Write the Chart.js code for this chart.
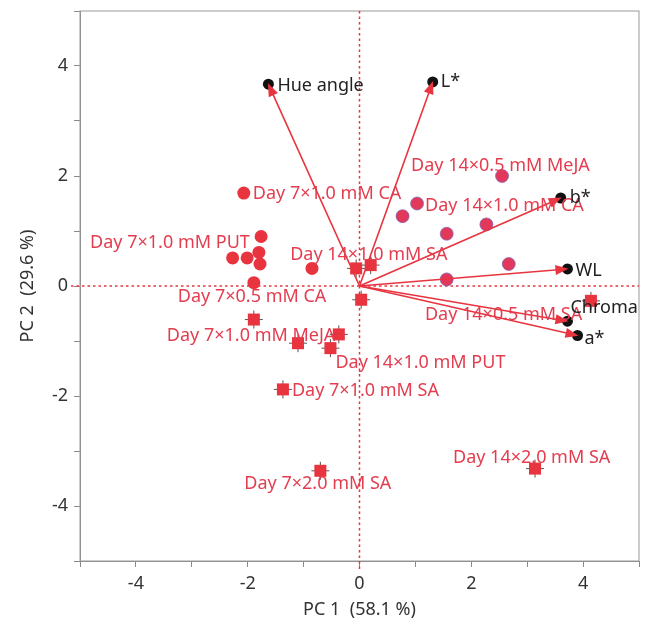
<!DOCTYPE html>
<html>
<head>
<meta charset="utf-8">
<script src="https://cdn.jsdelivr.net/npm/chart.js@4"></script>
<style>
  html, body { margin: 0; padding: 0; background: #fff; }
  #wrap { width: 653px; height: 636px; }
</style>
</head>
<body>
<div id="wrap"><canvas id="pca"></canvas></div>
<script>
// loadings (variables) - arrows from the origin
const loadNames = ["Hue angle", "L*", "b*", "WL", "Chroma", "a*"];
const loadPC1 = [-1.63, 1.31, 3.60, 3.72, 3.72, 3.90];
const loadPC2 = [3.67, 3.71, 1.60, 0.31, -0.64, -0.90];

// scores, round markers (left cluster)
const roundPC1 = [-2.07, -1.76, -2.27, -2.01, -1.80, -1.78, -1.89, -0.85];
const roundPC2 = [1.69, 0.90, 0.51, 0.51, 0.61, 0.40, 0.06, 0.32];
const roundLabels = ["Day 7×1.0 mM CA", "Day 7×1.0 mM PUT", "", "", "", "", "Day 7×0.5 mM CA", ""];

// scores, round markers (right cluster)
const pinkPC1 = [2.55, 1.03, 0.77, 2.27, 1.56, 2.67, 1.56];
const pinkPC2 = [2.00, 1.50, 1.27, 1.12, 0.95, 0.40, 0.12];
const pinkLabels = ["Day 14×0.5 mM MeJA", "Day 14×1.0 mM CA", "", "", "", "", ""];

// scores, square markers
const squarePC1 = [-0.06, 0.20, 0.03, -1.89, -1.10, -0.52, -0.37, -1.37, -0.70, 3.14, 4.14];
const squarePC2 = [0.32, 0.38, -0.25, -0.61, -1.04, -1.13, -0.88, -1.88, -3.36, -3.32, -0.27];
const squareLabels = ["Day 14×1.0 mM SA", "", "", "Day 7×1.0 mM MeJA", "", "Day 14×1.0 mM PUT",
  "", "Day 7×1.0 mM SA", "Day 7×2.0 mM SA", "Day 14×2.0 mM SA", "Day 14×0.5 mM SA"];

// where each text sits relative to its marker (pixels)
const labelPlacement = {
  "Day 7×1.0 mM CA": [9, 1],
  "Day 7×1.0 mM PUT": [-171, 6],
  "Day 7×0.5 mM CA": [-76, 14],
  "Day 14×0.5 mM MeJA": [-91, -10],
  "Day 14×1.0 mM CA": [8, 2],
  "Day 14×1.0 mM SA": [-66, -14],
  "Day 7×1.0 mM MeJA": [-87, 16],
  "Day 14×1.0 mM PUT": [5, 15],
  "Day 7×1.0 mM SA": [9, 1],
  "Day 7×2.0 mM SA": [-76, 13],
  "Day 14×2.0 mM SA": [-82, -11],
  "Day 14×0.5 mM SA": [-166, 14],
  "Hue angle": [9, 2],
  "L*": [8, 0],
  "b*": [9, 0],
  "WL": [8, 2],
  "Chroma": [3, -13],
  "a*": [7, 3]
};

const RED = "#e8343f";
const TEXT_RED = "#e43d4f";
const FONT = "'Noto Sans', sans-serif";

const toPoints = (xs, ys) => xs.map((x, i) => ({ x: x, y: ys[i] }));

const datasets = [
  {
    data: toPoints(squarePC1, squarePC2),
    pointStyle: "cross", pointRadius: 9,
    borderColor: "#555", borderWidth: 1, backgroundColor: "#555",
    order: 6
  },
  {
    data: toPoints(squarePC1, squarePC2),
    labels: squareLabels,
    pointStyle: "rect", pointRadius: 8.5,
    backgroundColor: RED, borderColor: RED, borderWidth: 0,
    order: 5
  },
  {
    data: toPoints(roundPC1, roundPC2),
    labels: roundLabels,
    pointStyle: "circle", pointRadius: 6.5,
    backgroundColor: RED, borderColor: RED, borderWidth: 0,
    order: 4
  },
  {
    data: toPoints(pinkPC1, pinkPC2),
    labels: pinkLabels,
    pointStyle: "circle", pointRadius: 6.5,
    backgroundColor: "#e2395a", borderColor: "rgba(120,100,190,0.7)", borderWidth: 1,
    order: 4
  }
];

// one line per loading, from origin to its tip
loadNames.forEach((name, i) => {
  datasets.push({
    data: [{ x: 0, y: 0 }, { x: loadPC1[i], y: loadPC2[i] }],
    showLine: true, isArrow: true,
    borderColor: RED, borderWidth: 1.6, pointRadius: 0,
    order: 2
  });
});

// black dots at the loading tips
datasets.push({
  data: toPoints(loadPC1, loadPC2),
  labels: loadNames, labelColor: "#222",
  pointStyle: "circle", pointRadius: 5.5,
  backgroundColor: "#111", borderWidth: 0,
  order: 1
});

const zeroLines = {
  id: "zeroLines",
  beforeDatasetsDraw(chart) {
    const { ctx, chartArea: a, scales: { x, y } } = chart;
    const x0 = x.getPixelForValue(0), y0 = y.getPixelForValue(0);
    ctx.save();
    ctx.strokeStyle = "#999";
    ctx.lineWidth = 1;
    ctx.strokeRect(a.left, a.top, a.right - a.left, a.bottom - a.top);
    ctx.strokeStyle = RED;
    ctx.lineWidth = 1.5;
    ctx.setLineDash([2.5, 3]);
    ctx.beginPath();
    ctx.moveTo(x0, a.top); ctx.lineTo(x0, a.bottom + 9);
    ctx.moveTo(a.left - 9, y0); ctx.lineTo(a.right, y0);
    ctx.stroke();
    ctx.restore();
  }
};

const arrowHeads = {
  id: "arrowHeads",
  afterDatasetsDraw(chart) {
    const ctx = chart.ctx;
    chart.data.datasets.forEach((ds, i) => {
      if (!ds.isArrow) return;
      const pts = chart.getDatasetMeta(i).data;
      const p0 = pts[0], p1 = pts[1];
      const ang = Math.atan2(p1.y - p0.y, p1.x - p0.x);
      const len = 13, half = 5;
      const tx = p1.x + Math.cos(ang) * 1, ty = p1.y + Math.sin(ang) * 1;
      ctx.save();
      ctx.fillStyle = RED;
      ctx.beginPath();
      ctx.moveTo(tx, ty);
      ctx.lineTo(tx - len * Math.cos(ang) - half * Math.sin(ang), ty - len * Math.sin(ang) + half * Math.cos(ang));
      ctx.lineTo(tx - len * Math.cos(ang) + half * Math.sin(ang), ty - len * Math.sin(ang) - half * Math.cos(ang));
      ctx.closePath();
      ctx.fill();
      ctx.restore();
    });
  }
};

const pointText = {
  id: "pointText",
  afterDatasetsDraw(chart) {
    const ctx = chart.ctx;
    ctx.save();
    ctx.font = "18px " + FONT;
    ctx.textAlign = "left";
    ctx.textBaseline = "middle";
    chart.data.datasets.forEach((ds, i) => {
      if (!ds.labels) return;
      const els = chart.getDatasetMeta(i).data;
      ds.labels.forEach((txt, j) => {
        if (!txt) return;
        const off = labelPlacement[txt] || [8, 0];
        ctx.fillStyle = ds.labelColor || TEXT_RED;
        ctx.fillText(txt, els[j].x + off[0], els[j].y + off[1]);
      });
    });
    ctx.restore();
  }
};

const evenOnly = v => (v % 2 === 0 ? v : "");

new Chart(document.getElementById("pca"), {
  type: "scatter",
  data: { datasets: datasets },
  plugins: [zeroLines, arrowHeads, pointText],
  options: {
    responsive: true,
    maintainAspectRatio: false,
    animation: false,
    layout: { padding: { left: 0, top: 11, right: 14, bottom: 0 } },
    plugins: {
      legend: { display: false },
      tooltip: { enabled: false }
    },
    scales: {
      x: {
        min: -5, max: 5,
        ticks: { stepSize: 1, callback: evenOnly, color: "#333", padding: 6, maxRotation: 0,
          font: { size: 18, family: FONT } },
        grid: { drawOnChartArea: false, drawTicks: true, tickLength: 6, color: "#8a8a8a" },
        border: { display: true, color: "#8a8a8a" },
        title: { display: true, text: "PC 1  (58.1 %)", color: "#333",
          font: { size: 18, family: FONT }, padding: { top: 2, bottom: 15 } },
        afterFit: s => { s.height = 75; s.paddingLeft = 0; s.paddingRight = 0; }
      },
      y: {
        min: -5, max: 5,
        ticks: { stepSize: 1, callback: evenOnly, color: "#333", padding: 6,
          font: { size: 18, family: FONT } },
        grid: { drawOnChartArea: false, drawTicks: true, tickLength: 6, color: "#8a8a8a" },
        border: { display: true, color: "#8a8a8a" },
        title: { display: true, text: "PC 2  (29.6 %)", color: "#333",
          font: { size: 18, family: FONT }, padding: { top: 17, bottom: 0 } },
        afterFit: s => { s.width = 80; s.paddingTop = 0; s.paddingBottom = 0; }
      }
    }
  }
});
</script>
</body>
</html>
